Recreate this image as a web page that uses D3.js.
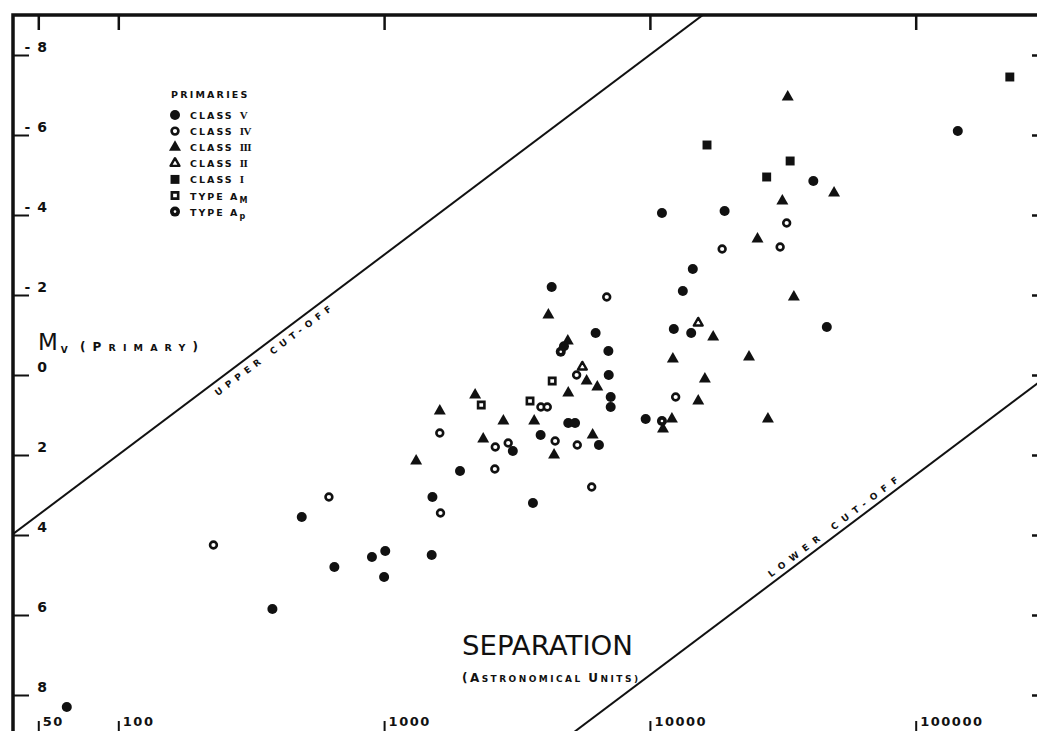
<!DOCTYPE html>
<html>
<head>
<meta charset="utf-8">
<script src="https://cdn.jsdelivr.net/npm/d3@7"></script>
<style>
  body { margin: 0; background: #fff; }
  svg { display: block; background: #fff; }
  text { font-family: "DejaVu Sans", sans-serif; fill: #111; }
</style>
</head>
<body>
<svg id="chart" width="1037" height="731"></svg>
<script>
// separation (AU), Mv of primary
const classV = [
  [4270, -2.2], [6250, -1.05], [4750, -0.72], [6980, -0.6], [7000, 0.0],
  [7120, 0.55], [7120, 0.8], [4930, 1.2], [5230, 1.2], [3880, 1.5],
  [6430, 1.75], [3050, 1.9], [1930, 2.4], [3630, 3.2], [144000, -6.1],
  [11100, -4.05], [19100, -4.1], [41200, -4.85], [14500, -2.65], [13300, -2.1],
  [12300, -1.15], [14300, -1.05], [46300, -1.2], [9640, 1.1], [1520, 3.05],
  [490, 3.55], [1010, 4.4], [900, 4.55], [1510, 4.5], [650, 4.8],
  [1000, 5.05], [380, 5.85], [64, 8.3]
];
const classIV = [
  [6880, -1.95], [5300, 0.0], [3890, 0.8], [4110, 0.8], [1620, 1.45],
  [4400, 1.65], [2930, 1.7], [2620, 1.8], [5330, 1.75], [2610, 2.35],
  [6040, 2.8], [620, 3.05], [1630, 3.45], [228, 4.25], [32700, -3.8],
  [18700, -3.15], [30900, -3.2], [12500, 0.55]
];
const classIII = [
  [4150, -1.5], [4910, -0.85], [5780, 0.15], [6340, 0.3], [4930, 0.45],
  [2200, 0.5], [1620, 0.9], [2810, 1.15], [3670, 1.15], [6090, 1.5],
  [2360, 1.6], [4360, 2.0], [1320, 2.15], [33000, -6.95], [49300, -4.55],
  [31500, -4.35], [25400, -3.4], [34800, -1.95], [17300, -0.95], [12200, -0.4],
  [23600, -0.45], [16100, 0.1], [15200, 0.65], [12100, 1.1], [11200, 1.35],
  [27800, 1.1]
];
const classII = [[5570, -0.2], [15200, -1.3]];
const classI = [[16400, -5.75], [33700, -5.35], [27500, -4.95], [226000, -7.45]];
const typeAm = [[4290, 0.15], [2320, 0.75], [3540, 0.65]];
const typeAp = [[4620, -0.58], [11100, 1.15]];

// cut-off lines, end points in data units
const upperCutoff = [[30, 4.61], [20000, -9.51]];
const lowerCutoff = [[4000, 9.49], [400000, -0.51]];

const xTicks = [50, 100, 1000, 10000, 100000];
const yTicks = [-8, -6, -4, -2, 0, 2, 4, 6, 8];

const ink = "#111";
const svg = d3.select("#chart");
const frame = { left: 13, top: 15, right: 1037, bottom: 731 };

const x = d3.scaleLog().domain([100, 100000]).range([118.3, 915.7]);
const y = d3.scaleLinear().domain([-8, 8]).range([55, 695]);

svg.append("defs").append("clipPath").attr("id", "plot")
  .append("rect")
  .attr("x", frame.left).attr("y", frame.top)
  .attr("width", frame.right - frame.left).attr("height", frame.bottom - frame.top);

// markers
const shapes = {
  V: g => g.append("circle").attr("r", 5).attr("fill", ink),
  IV: g => g.append("circle").attr("r", 3.4).attr("fill", "#fff")
    .attr("stroke", ink).attr("stroke-width", 2.6),
  III: g => g.append("path").attr("d", d3.symbol(d3.symbolTriangle, 62)()).attr("fill", ink),
  II: g => g.append("path").attr("d", d3.symbol(d3.symbolTriangle, 34)())
    .attr("fill", "#fff").attr("stroke", ink).attr("stroke-width", 2.4).attr("stroke-linejoin", "round"),
  I: g => g.append("path").attr("d", d3.symbol(d3.symbolSquare, 80)()).attr("fill", ink),
  Am: g => g.append("path").attr("d", d3.symbol(d3.symbolSquare, 40)())
    .attr("fill", "#fff").attr("stroke", ink).attr("stroke-width", 2.6),
  Ap: g => {
    g.append("circle").attr("r", 5).attr("fill", ink);
    g.append("circle").attr("r", 1.3).attr("fill", "#fff");
  }
};

const series = [
  { text: "CLASS", num: "V", kind: "V", data: classV },
  { text: "CLASS", num: "IV", kind: "IV", data: classIV },
  { text: "CLASS", num: "III", kind: "III", data: classIII },
  { text: "CLASS", num: "II", kind: "II", data: classII },
  { text: "CLASS", num: "I", kind: "I", data: classI },
  { text: "TYPE A", sub: "M", kind: "Am", data: typeAm },
  { text: "TYPE A", sub: "p", kind: "Ap", data: typeAp }
];

// frame
svg.append("path")
  .attr("d", `M${frame.left},${frame.bottom}V${frame.top}H${frame.right}`)
  .attr("fill", "none").attr("stroke", ink).attr("stroke-width", 3.5);

// left axis
const yAxis = svg.append("g")
  .attr("transform", `translate(${frame.left},0)`)
  .call(d3.axisRight(y).tickValues(yTicks).tickSize(16)
    .tickFormat(d => d < 0 ? "-\u2002" + (-d) : d));
yAxis.select(".domain").remove();
yAxis.attr("font-family", "DejaVu Sans").attr("font-size", 14).attr("font-weight", "bold");
yAxis.selectAll("line").attr("stroke", ink).attr("stroke-width", 2);
yAxis.selectAll("text").attr("x", 34).attr("y", -8.5).attr("dy", "0.36em")
  .attr("text-anchor", "end").attr("fill", ink);

// right edge ticks
const yRight = svg.append("g")
  .attr("transform", `translate(${frame.right},0)`)
  .call(d3.axisLeft(y).tickValues(yTicks).tickSize(5).tickFormat(""));
yRight.select(".domain").remove();
yRight.selectAll("line").attr("stroke", ink).attr("stroke-width", 2.5);

// bottom axis
const xAxis = svg.append("g")
  .attr("transform", `translate(0,${frame.bottom})`)
  .call(d3.axisBottom(x).tickValues(xTicks).tickSize(-10).tickFormat(d3.format("d")));
xAxis.select(".domain").remove();
xAxis.attr("font-family", "DejaVu Sans").attr("font-size", 13).attr("font-weight", "bold");
xAxis.selectAll("line").attr("stroke", ink).attr("stroke-width", 2);
xAxis.selectAll("text").attr("x", 4).attr("y", -5).attr("dy", 0)
  .attr("text-anchor", "start").attr("letter-spacing", 1.5).attr("fill", ink);

// top ticks
const xTop = svg.append("g")
  .attr("transform", `translate(0,${frame.top})`)
  .call(d3.axisTop(x).tickValues(xTicks).tickSize(-15).tickFormat(""));
xTop.select(".domain").remove();
xTop.selectAll("line").attr("stroke", ink).attr("stroke-width", 2.5);

// cut-off lines
const lineGen = d3.line().x(d => x(d[0])).y(d => y(d[1]));
const plot = svg.append("g").attr("clip-path", "url(#plot)");
[upperCutoff, lowerCutoff].forEach(l => {
  plot.append("path").attr("d", lineGen(l))
    .attr("fill", "none").attr("stroke", ink).attr("stroke-width", 2);
});

function cutLabel (l, atA, label, offset, len) {
  const t = (Math.log10(atA) - Math.log10(l[0][0])) / (Math.log10(l[1][0]) - Math.log10(l[0][0]));
  const m = l[0][1] + t * (l[1][1] - l[0][1]);
  const ang = Math.atan2(y(l[1][1]) - y(l[0][1]), x(l[1][0]) - x(l[0][0])) * 180 / Math.PI;
  svg.append("text")
    .attr("transform", `translate(${x(atA)},${y(m)}) rotate(${ang})`)
    .attr("y", offset)
    .attr("text-anchor", "middle")
    .attr("font-size", 9).attr("font-weight", "bold")
    .attr("textLength", len).attr("lengthAdjust", "spacing")
    .text(label);
}
cutLabel(upperCutoff, 363, "UPPER CUT-OFF", 13, 143);
cutLabel(lowerCutoff, 51000, "LOWER CUT-OFF", -5, 160);

// points
series.forEach(s => {
  const g = plot.append("g").selectAll("g")
    .data(s.data)
    .join("g")
    .attr("transform", d => `translate(${x(d[0])},${y(d[1])})`);
  shapes[s.kind](g);
});

// legend
const legend = svg.append("g");
legend.append("text").attr("x", 171).attr("y", 98)
  .attr("font-size", 9.5).attr("font-weight", "bold").attr("letter-spacing", 2.2)
  .text("PRIMARIES");
series.forEach((s, i) => {
  const cy = 115 + i * 16.1;
  const row = legend.append("g").attr("transform", `translate(175,${cy})`);
  shapes[s.kind](row);
  const t = legend.append("text").attr("x", 190).attr("y", cy + 4)
    .attr("font-size", 9.5).attr("font-weight", "bold").attr("letter-spacing", 2);
  t.append("tspan").text(s.text);
  if (s.num) {
    t.append("tspan").attr("dx", 6)
      .attr("font-family", "Liberation Serif").attr("font-size", 11).attr("letter-spacing", -0.5)
      .text(s.num);
  }
  if (s.sub) {
    t.append("tspan").attr("dy", 3).attr("font-size", 8).text(s.sub);
  }
});

// axis titles
const mv = svg.append("text").attr("x", 38).attr("y", 350);
mv.append("tspan").attr("font-size", 23).text("M");
mv.append("tspan").attr("dx", 3).attr("dy", 3).attr("font-size", 9).attr("font-weight", "bold").text("V");
const prim = svg.append("text").attr("x", 80).attr("y", 351)
  .attr("font-weight", "bold").attr("textLength", 118).attr("lengthAdjust", "spacing");
prim.append("tspan").attr("font-size", 12).text("(P");
prim.append("tspan").attr("font-size", 9.5).text("RIMARY");
prim.append("tspan").attr("font-size", 12).text(")");

svg.append("text").attr("x", 547.5).attr("y", 655)
  .attr("text-anchor", "middle").attr("font-size", 27)
  .attr("textLength", 171).attr("lengthAdjust", "spacingAndGlyphs")
  .text("SEPARATION");
const sub = svg.append("text").attr("x", 462).attr("y", 682)
  .attr("font-weight", "bold").attr("textLength", 176).attr("lengthAdjust", "spacing");
sub.append("tspan").attr("font-size", 12).text("(A");
sub.append("tspan").attr("font-size", 9).text("STRONOMICAL ");
sub.append("tspan").attr("font-size", 12).text("U");
sub.append("tspan").attr("font-size", 9).text("NITS)");
</script>
</body>
</html>
